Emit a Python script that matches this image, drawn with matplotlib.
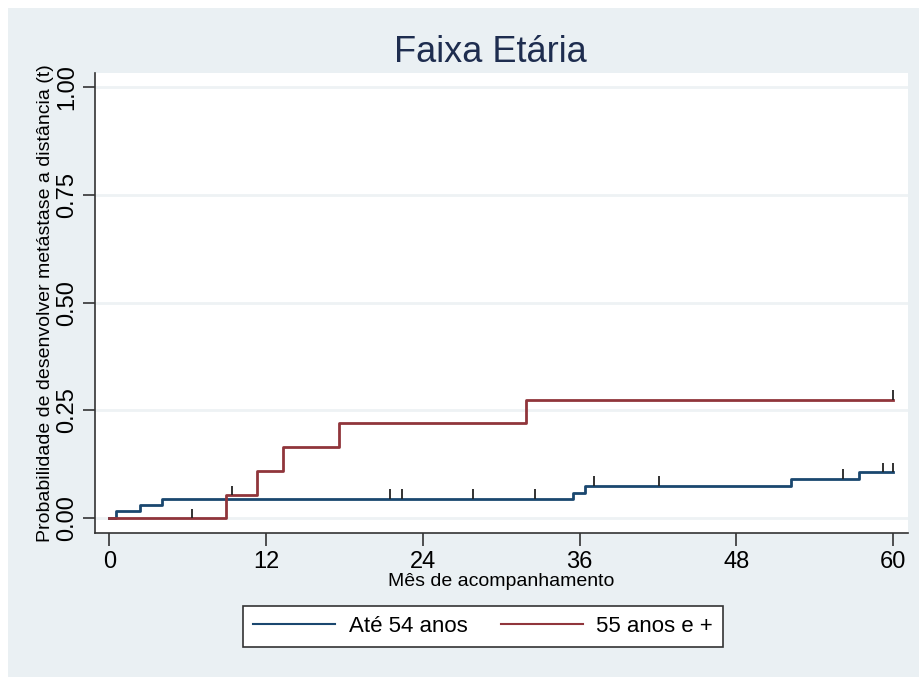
import numpy as np
import matplotlib.pyplot as plt
from matplotlib.patches import Rectangle

# cumulative incidence steps (1 - KM) by age group
t_ate54 = [0, 0.46, 2.35, 4.0, 35.5, 36.4, 52.2, 57.4, 60]
p_ate54 = [0, 0.016, 0.030, 0.045, 0.059, 0.075, 0.092, 0.107, 0.107]
cens_ate54 = [21.5, 22.4, 27.8, 32.6, 37.1, 42.1, 56.2, 59.2, 60]

t_55mais = [0, 8.9, 11.3, 13.3, 17.6, 31.9, 60]
p_55mais = [0, 0.053, 0.109, 0.165, 0.221, 0.275, 0.275]
cens_55mais = [6.3, 9.4, 60]

xticks = [0, 12, 24, 36, 48, 60]
yticks = [0, 0.25, 0.5, 0.75, 1.0]
ytick_labels = ["0.00", "0.25", "0.50", "0.75", "1.00"]

plt.rcParams['font.family'] = ['Liberation Sans', 'DejaVu Sans']
bg = '#eaf0f3'
axc = '#333333'
blue = '#1a476f'
red = '#90353b'

W, H = 920, 677
fig = plt.figure(figsize=(W / 100, H / 100), dpi=100, facecolor='white')
fig.patches.append(Rectangle((8 / W, 0), 1, 1 - 8 / H, transform=fig.transFigure,
                             facecolor=bg, edgecolor='none', zorder=-10))

ax = fig.add_axes([95 / W, 1 - 533 / H, (908 - 95) / W, (533 - 72.7) / H])
ax.set_facecolor('white')
ax.set_xlim(-1.11, 61.14)
ax.set_ylim(-0.034, 1.033)

for y in yticks:
    ax.axhline(y, color='#eef2f4', lw=2, zorder=0)


def draw(t, p, cens, color):
    ax.step(t, p, where='post', color=color, lw=2, zorder=3)
    idx = np.searchsorted(t, cens, side='right') - 1
    yc = np.array(p)[idx]
    ax.vlines(cens, yc, yc + 0.022, color='#222222', lw=1.3, zorder=4)


draw(t_ate54, p_ate54, cens_ate54, blue)
draw(t_55mais, p_55mais, cens_55mais, red)

for s in ['top', 'right']:
    ax.spines[s].set_visible(False)
for s in ['left', 'bottom']:
    ax.spines[s].set_color(axc)
    ax.spines[s].set_linewidth(1.2)

ax.set_xticks(xticks)
ax.set_yticks(yticks)
ax.set_yticklabels(ytick_labels, rotation=90, va='center')
ax.tick_params(axis='both', length=9, width=1.2, color=axc, labelsize=17, labelcolor='black')
ax.tick_params(axis='x', pad=4)
ax.tick_params(axis='y', pad=3)

ax.set_xlabel('Mês de acompanhamento', fontsize=14, labelpad=0)
ax.set_ylabel('Probabilidade de desenvolver metástase a distância (t)', fontsize=14, labelpad=2)

fig.text(490 / W, 1 - 52 / H, 'Faixa Etária', ha='center', va='center', fontsize=26, color='#1e2d4f')

h1, = ax.plot([], [], color=blue, lw=1.5)
h2, = ax.plot([], [], color=red, lw=1.5)
leg = fig.legend([h1, h2], ['Até 54 anos', '55 anos e +'], loc='center',
                 bbox_to_anchor=(483 / W, 1 - 626.5 / H), ncol=2, fontsize=16,
                 frameon=True, fancybox=False, edgecolor=axc, facecolor='white',
                 framealpha=1, handlelength=3.7, handletextpad=0.6, columnspacing=1.5,
                 borderpad=0.45, borderaxespad=0)
leg.get_frame().set_linewidth(1.2)

fig.savefig('out.png', dpi=100, facecolor=fig.get_facecolor())
